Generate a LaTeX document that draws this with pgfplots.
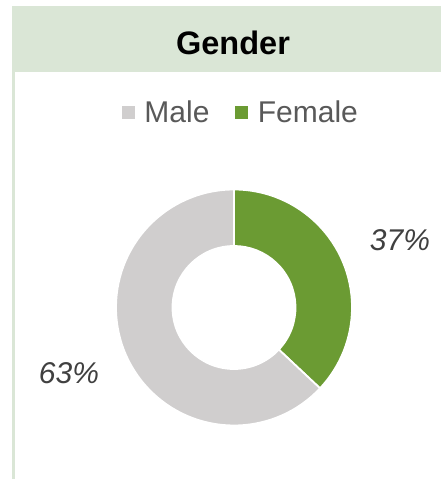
\documentclass[border=0pt]{standalone}
\usepackage{pgfplots}
\usepackage{pgfplotstable}
\usepackage{fontspec}
\setmainfont{Liberation Sans}
\pgfplotsset{compat=1.18}
\definecolor{band}{HTML}{DAE6D6}
\definecolor{male}{HTML}{D0CECE}
\definecolor{female}{HTML}{6B9B33}
\definecolor{legtxt}{HTML}{595959}
\definecolor{lbltxt}{HTML}{404040}
\pgfplotstableread{
label value
Female 37
Male 63
}\gendertable
\begin{document}
\begin{tikzpicture}
\begin{axis}[
  x=1bp, y=1bp,
  xmin=0, xmax=441, ymin=0, ymax=479,
  hide axis, clip=false,
  legend columns=2,
  legend style={draw=none, fill=none, at={(axis cs:240,367)}, anchor=center,
    font=\fontsize{30bp}{36bp}\selectfont, text=legtxt,
    nodes={inner sep=0bp, inner xsep=0bp},
    /tikz/every odd column/.append style={column sep=10bp},
    /tikz/every even column/.append style={column sep=26bp}},
  legend image code/.code={\fill[#1] (0bp,-6bp) rectangle (12bp,6bp);},
]
% frame and title band
\path[fill=white] (axis cs:0,0) rectangle (axis cs:441,479);
\fill[band] (axis cs:12,407) rectangle (axis cs:441,473);
\fill[band] (axis cs:12,0) rectangle (axis cs:14.5,407);
\node[font=\fontsize{32.5bp}{38bp}\selectfont\bfseries, text=black] at (axis cs:233,436.5) {Gender};
% donut from table values
\pgfplotstablegetelem{0}{value}\of\gendertable \let\vF\pgfplotsretval
\pgfplotstablegetelem{1}{value}\of\gendertable \let\vM\pgfplotsretval
\pgfmathsetmacro{\aF}{90-3.6*\vF}
\pgfmathsetmacro{\aM}{\aF-3.6*\vM}
\fill[female, draw=white, line width=1.8bp, shift={(axis cs:234,171.5)}]
  (90:118bp) arc[start angle=90, end angle=\aF, radius=118bp]
  -- (\aF:61.5bp) arc[start angle=\aF, end angle=90, radius=61.5bp] -- cycle;
\fill[male, draw=white, line width=1.8bp, shift={(axis cs:234,171.5)}]
  (\aF:118bp) arc[start angle=\aF, end angle=\aM, radius=118bp]
  -- (\aM:61.5bp) arc[start angle=\aM, end angle=\aF, radius=61.5bp] -- cycle;
% labels
\node[font=\fontsize{30bp}{36bp}\selectfont\itshape, text=lbltxt] at (axis cs:400,239) {\vF\%};
\node[font=\fontsize{30bp}{36bp}\selectfont\itshape, text=lbltxt] at (axis cs:69,106) {\vM\%};
% legend
\addlegendimage{male}
\addlegendentry{Male}
\addlegendimage{female}
\addlegendentry{Female}
\end{axis}
\end{tikzpicture}
\end{document}
